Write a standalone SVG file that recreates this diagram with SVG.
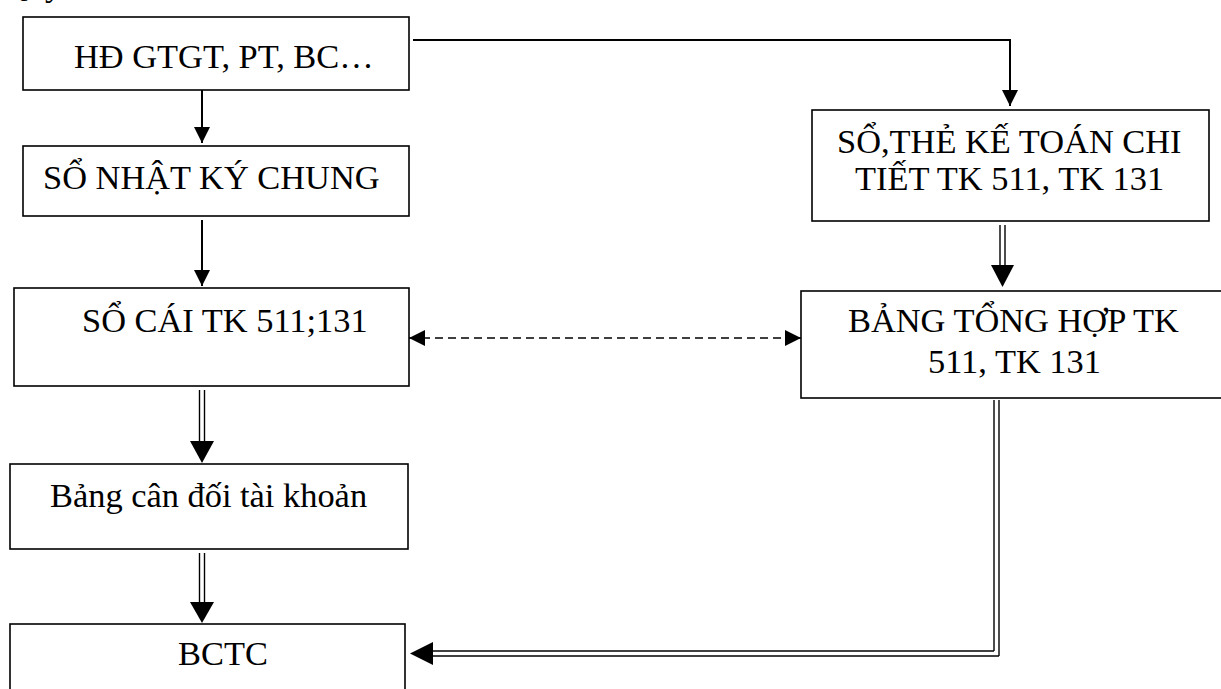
<svg xmlns="http://www.w3.org/2000/svg" width="1221" height="689" viewBox="0 0 1221 689">
  <style>
    .box { fill: #ffffff; stroke: #000000; stroke-width: 1.6; }
    .lbl { font-family: "Liberation Serif", "Times New Roman", serif; font-size: 34.4px; fill: #000000; }
    .wire { fill: none; stroke: #000000; stroke-width: 2; }
    .dash { fill: none; stroke: #000000; stroke-width: 1.6; stroke-dasharray: 8 5; }
    .rail { fill: none; stroke: #000000; stroke-width: 1.4; }
    .head { fill: #000000; stroke: none; }
  </style>
  <defs>
    <marker id="tip" viewBox="0 0 16 16" refX="16" refY="8" markerWidth="16" markerHeight="16" markerUnits="userSpaceOnUse" orient="auto-start-reverse">
      <path d="M0,0 L16,8 L0,16 z" fill="#000000"/>
    </marker>
  </defs>

  <!-- heading line, mostly above the page edge -->
  <text class="lbl" x="3" y="-4">Quy trình</text>

  <!-- nodes -->
  <g id="hd-gtgt">
    <rect class="box" x="23" y="17" width="386" height="73"/>
    <text class="lbl" x="74" y="68">HĐ GTGT, PT, BC…</text>
  </g>
  <g id="so-nhat-ky-chung">
    <rect class="box" x="23" y="146" width="386" height="70"/>
    <text class="lbl" x="43" y="189">SỔ NHẬT KÝ CHUNG</text>
  </g>
  <g id="so-cai">
    <rect class="box" x="14" y="288" width="395" height="98"/>
    <text class="lbl" x="82" y="332">SỔ CÁI TK 511;131</text>
  </g>
  <g id="bang-can-doi">
    <rect class="box" x="10" y="464" width="398" height="85"/>
    <text class="lbl" x="50" y="507">Bảng cân đối tài khoản</text>
  </g>
  <g id="bctc">
    <rect class="box" x="10" y="624" width="395" height="90"/>
    <text class="lbl" x="178" y="665">BCTC</text>
  </g>
  <g id="so-the-chi-tiet">
    <rect class="box" x="812" y="110" width="397" height="111"/>
    <text class="lbl" x="837" y="153">SỔ,THẺ KẾ TOÁN CHI</text>
    <text class="lbl" x="855" y="190">TIẾT TK 511, TK 131</text>
  </g>
  <g id="bang-tong-hop">
    <rect class="box" x="801" y="291" width="424" height="107"/>
    <text class="lbl" x="848" y="332">BẢNG TỔNG HỢP TK</text>
    <text class="lbl" x="928" y="373">511, TK 131</text>
  </g>

  <!-- connectors -->
  <g id="connectors">
    <!-- single-line arrows -->
    <path class="wire" d="M202,90 L202,143" marker-end="url(#tip)"/>
    <path class="wire" d="M202,220 L202,286" marker-end="url(#tip)"/>
    <path class="wire" d="M413,40 L1010,40 L1010,106" marker-end="url(#tip)"/>

    <!-- dashed two-way link -->
    <path class="dash" d="M409,338 L801,338" marker-start="url(#tip)" marker-end="url(#tip)"/>

    <!-- double-line arrows -->
    <line class="rail" x1="199.5" y1="390" x2="199.5" y2="442"/>
    <line class="rail" x1="204.5" y1="390" x2="204.5" y2="442"/>
    <polygon class="head" points="190,441 214,441 202,463"/>

    <line class="rail" x1="199.5" y1="553" x2="199.5" y2="603"/>
    <line class="rail" x1="204.5" y1="553" x2="204.5" y2="603"/>
    <polygon class="head" points="190,602 214,602 202,623"/>

    <line class="rail" x1="1000" y1="225" x2="1000" y2="266"/>
    <line class="rail" x1="1005" y1="225" x2="1005" y2="266"/>
    <polygon class="head" points="991,265 1014,265 1002.5,287"/>

    <line class="rail" x1="994" y1="400" x2="994" y2="651"/>
    <line class="rail" x1="999" y1="400" x2="999" y2="656"/>
    <line class="rail" x1="430" y1="651" x2="994" y2="651"/>
    <line class="rail" x1="430" y1="656" x2="999" y2="656"/>
    <polygon class="head" points="410,653.5 433,642 433,665"/>
  </g>
</svg>
